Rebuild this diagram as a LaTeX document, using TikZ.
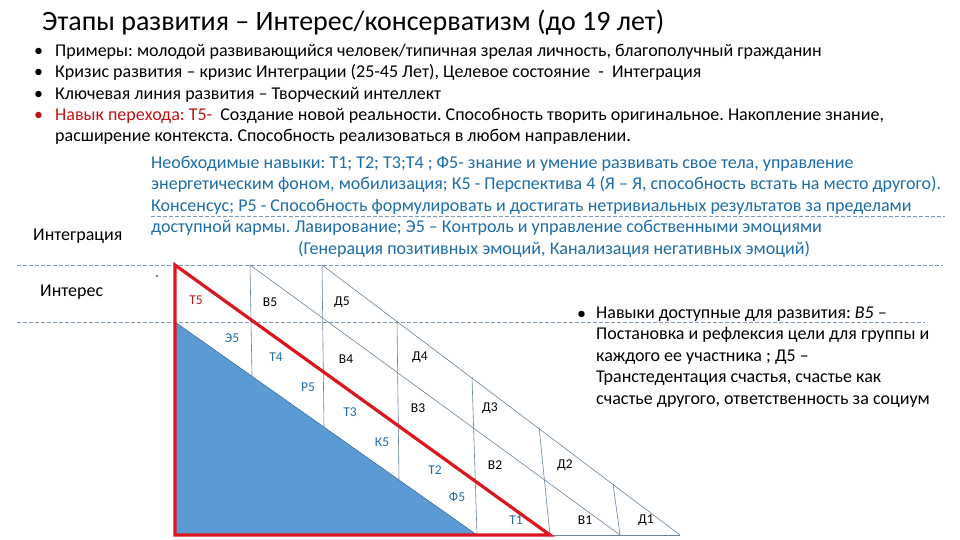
\documentclass[tikz,border=0pt]{standalone}
\usepackage{fontspec}
\setmainfont{Carlito}
\usepackage{tikz}
\frenchspacing
\definecolor{skillblue}{RGB}{30,108,168}
\definecolor{trired}{RGB}{220,22,32}
\definecolor{darkred}{RGB}{192,20,20}
\definecolor{fillblue}{RGB}{91,155,213}
\definecolor{blueedge}{RGB}{65,113,156}
\definecolor{gridgray}{RGB}{105,130,158}
\definecolor{levelgray}{RGB}{125,155,185}
\newcommand\fs[2]{\fontsize{#1}{#2}\selectfont}
\tikzstyle{txt}=[anchor=base west,inner sep=0pt,align=left,font=\fs{18}{21.5}]
\tikzstyle{skill}=[txt,text=skillblue,font=\fs{18}{21.5}]
\tikzstyle{cell}=[inner sep=0pt,font=\fs{13.5}{15}]
\tikzstyle{cellb}=[cell,text=skillblue]
\tikzstyle{gridln}=[draw=gridgray,line width=.6pt]
\tikzstyle{level}=[draw=levelgray,dash pattern=on 4pt off 2pt,line width=.7pt]
\tikzstyle{redtri}=[draw=trired,line width=3.2pt,line join=miter]

\begin{document}
\begin{tikzpicture}[x=1pt,y=-1pt]
	\useasboundingbox (0,0) rectangle (960,540);
	\node[txt,font=\fs{28}{32}] (title) at (42,31) {Этапы развития – Интерес/консерватизм (до 19 лет)};
	\node[txt] (b1) at (34,57) {•};
	\node[txt] (p1) at (55,57) {Примеры: молодой развивающийся человек/типичная зрелая личность, благополучный гражданин};
	\node[txt] (b2) at (34,78) {•};
	\node[txt] (p2) at (55,78) {Кризис развития – кризис Интеграции (25-45 Лет), Целевое состояние \ - \ Интеграция};
	\node[txt] (b3) at (34,100) {•};
	\node[txt] (p3) at (55,100) {Ключевая линия развития – Творческий интеллект};
	\node[txt,text=darkred] (b4) at (34,121) {•};
	\node[txt] (p4) at (55,142) {{\color{darkred}Навык перехода: Т5-} \ Создание новой реальности. Способность творить оригинальное. Накопление знание,\\
		расширение контекста. Способность реализоваться в любом направлении.};
	\node[skill] (need) at (151,254) {Необходимые навыки: Т1; Т2; Т3;Т4 ; Ф5- знание и умение развивать свое тела, управление\\
		энергетическим фоном, мобилизация; К5 - Перспектива 4 (Я – Я, способность встать на место другого).\\
		Консенсус; Р5 - Способность формулировать и достигать нетривиальных результатов за пределами\\
		доступной кармы. Лавирование; Э5 – Контроль и управление собственными эмоциями\\
		\hspace*{147pt}(Генерация позитивных эмоций, Канализация негативных эмоций)};
	\node[txt] (integ) at (33,240) {Интеграция};
	\node[txt] (inter) at (40,296) {Интерес};
	\fill (157,276) circle (.8pt);
	\draw[level] (17,265) -- (943,265);
	\draw[level] (17,322) -- (925,322);
	\draw[level] (151,216) -- (945,216);
	\coordinate (top) at (175,265);
	\coordinate (mid) at (175,322);
	\coordinate (corner) at (175,535);
	\coordinate (blueend) at (477,535);
	\coordinate (redend) at (550,535);
	\coordinate (outerend) at (680,535);
	\filldraw[fill=fillblue,draw=blueedge,line width=.6pt] (mid) -- (blueend) -- (corner) -- cycle;
	\draw[gridln] (250,265) -- (620,535);
	\draw[gridln] (322,265) -- (outerend);
	\draw[gridln] (redend) -- (outerend);
	\draw[gridln] (250,265) -- (252,376);
	\draw[gridln] (322,265) -- (324,428);
	\draw[gridln] (397,321) -- (399,481);
	\draw[gridln] (472,377) -- (blueend);
	\draw[gridln] (539,427) -- (redend);
	\draw[gridln] (613,484) -- (620,535);
	\draw[redtri] (top) -- (redend) -- (corner) -- cycle;
	\node[cell,text=darkred] (t5) at (196,300) {Т5};
	\node[cell] (v5) at (270,302) {В5};
	\node[cell] (d5) at (342,302) {Д5};
	\node[cellb] (e5) at (232,338) {Э5};
	\node[cellb] (t4) at (276,357) {Т4};
	\node[cell] (v4) at (346,359) {В4};
	\node[cell] (d4) at (420,357) {Д4};
	\node[cellb] (r5) at (308,387) {Р5};
	\node[cellb] (t3) at (350,412) {Т3};
	\node[cell] (v3) at (418,408) {В3};
	\node[cell] (d3) at (490,408) {Д3};
	\node[cellb] (k5) at (382,442) {К5};
	\node[cellb] (t2) at (435,470) {Т2};
	\node[cell] (v2) at (495,465) {В2};
	\node[cell] (d2) at (565,465) {Д2};
	\node[cellb] (f5) at (457,497) {Ф5};
	\node[cellb] (t1) at (516,520) {Т1};
	\node[cell] (v1) at (585,520) {В1};
	\node[cell] (d1) at (646,520) {Д1};
	\node[txt] (b5) at (577,319) {•};
	\node[txt] (avail) at (596,404) {Навыки доступные для развития: \textit{В5 –}\\
		Постановка и рефлексия цели для группы и\\
		каждого ее участника ; Д5 –\\
		Транстедентация счастья, счастье как\\
		счастье другого, ответственность за социум};
\end{tikzpicture}
\end{document}
